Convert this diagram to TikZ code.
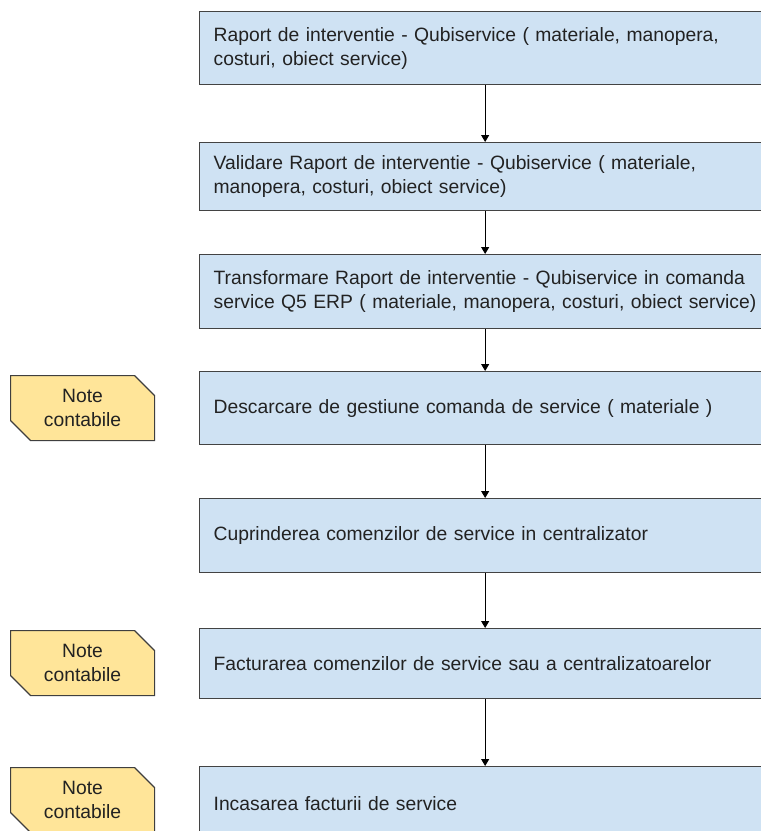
\documentclass[tikz,border=0pt]{standalone}
\usepackage{fontspec}
\setmainfont{Liberation Sans}
\usetikzlibrary{arrows.meta,shapes.misc}
\definecolor{boxfill}{HTML}{CFE2F3}
\definecolor{boxline}{HTML}{434343}
\definecolor{notefill}{HTML}{FFE599}
\definecolor{noteline}{HTML}{3F3F3F}
\definecolor{txt}{HTML}{222222}
\tikzset{
  stepbox/.style={draw=boxline, line width=1.3pt, fill=boxfill, anchor=north west,
    minimum width=571pt, inner xsep=14pt, inner ysep=0pt, text width=543pt, align=left,
    text=txt, font=\fontsize{19.3}{24}\selectfont},
  notebox/.style={draw=noteline, line width=1.1pt, fill=notefill, chamfered rectangle,
    chamfered rectangle corners={north east,south west}, chamfered rectangle xsep=10pt,
    chamfered rectangle ysep=10pt, anchor=north west, minimum width=144pt, minimum height=65pt,
    inner sep=0pt, align=center, text=txt, font=\fontsize{19.3}{24}\selectfont},
  flow/.style={draw=black, line width=1pt, -{Triangle[width=8pt,length=7pt]}}
}
\begin{document}
\begin{tikzpicture}[x=1pt,y=-1pt]
\useasboundingbox (0,0) rectangle (761,831);
\clip (0,0) rectangle (761,831);
\fill[white] (0,0) rectangle (761,831);
\node[stepbox, minimum height=73pt] (b1) at (199,11) {\mbox{Raport de interventie - Qubiservice ( materiale, manopera,}\\\mbox{costuri, obiect service)}};
\node[stepbox, minimum height=68pt] (b2) at (199,142) {\mbox{Validare Raport de interventie - Qubiservice ( materiale,}\\\mbox{manopera, costuri, obiect service)}};
\node[stepbox, minimum height=74pt] (b3) at (199,254) {\mbox{Transformare Raport de interventie - Qubiservice in comanda}\\\mbox{service Q5 ERP ( materiale, manopera, costuri, obiect service)}};
\node[stepbox, minimum height=73pt] (b4) at (199,371) {Descarcare de gestiune comanda de service ( materiale )};
\node[stepbox, minimum height=74pt] (b5) at (199,498) {Cuprinderea comenzilor de service in centralizator};
\node[stepbox, minimum height=70pt] (b6) at (199,628) {Facturarea comenzilor de service sau a centralizatoarelor};
\node[stepbox, minimum height=73pt] (b7) at (199,766) {Incasarea facturii de service};
\node[notebox] (n1) at (10,375) {Note\\contabile};
\node[notebox] (n2) at (10,630) {Note\\contabile};
\node[notebox] (n3) at (10,767) {Note\\contabile};
\draw[flow] (b1.south) -- (b2.north);
\draw[flow] (b2.south) -- (b3.north);
\draw[flow] (b3.south) -- (b4.north);
\draw[flow] (b4.south) -- (b5.north);
\draw[flow] (b5.south) -- (b6.north);
\draw[flow] (b6.south) -- (b7.north);
\end{tikzpicture}
\end{document}
